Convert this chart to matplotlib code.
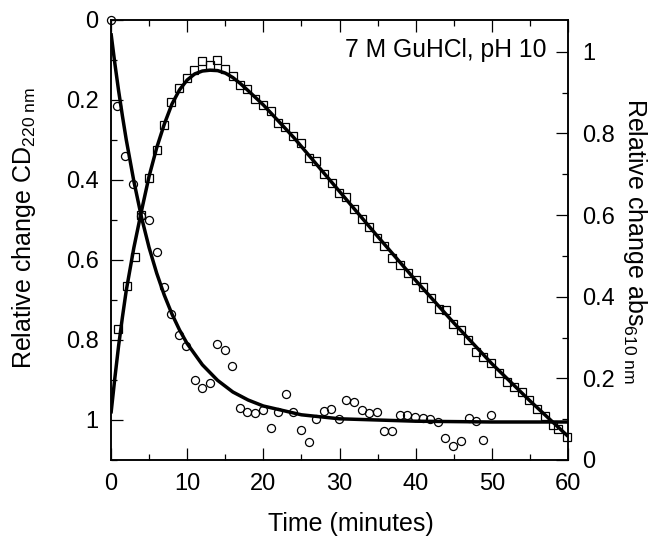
import matplotlib
matplotlib.use("Agg")
import matplotlib.pyplot as plt
from matplotlib.ticker import MultipleLocator, FixedLocator

plt.rcParams['font.family'] = ['Liberation Sans', 'DejaVu Sans']
plt.rcParams['mathtext.fontset'] = 'custom'
plt.rcParams['mathtext.rm'] = 'Liberation Sans'
plt.rcParams['mathtext.it'] = 'Liberation Sans:italic'
plt.rcParams['mathtext.bf'] = 'Liberation Sans:bold'

# ---- CD220 data (circles, left axis, inverted) ----
t_cd = [0, 0.85, 1.85, 2.85, 4.0, 5.0, 6.0, 6.95, 7.9, 8.9, 9.9, 11, 12, 13,
        13.9, 14.95, 15.9, 16.9, 17.9, 18.9, 19.95, 20.95, 21.9, 22.95, 23.9,
        24.9, 25.95, 26.9, 27.9, 28.9, 29.9, 30.9, 31.9, 32.9, 33.9, 34.9,
        35.9, 36.9, 37.9, 38.9, 39.95, 40.95, 41.9, 42.95, 43.9, 44.9, 45.9,
        46.95, 47.95, 48.9, 49.9]
cd = [0.0, 0.215, 0.34, 0.41, 0.49, 0.50, 0.58, 0.667, 0.736, 0.788, 0.814,
      0.90, 0.919, 0.908, 0.809, 0.825, 0.866, 0.97, 0.98, 0.983, 0.976, 1.02,
      0.979, 0.934, 0.98, 1.025, 1.055, 0.998, 0.977, 0.972, 0.997, 0.95,
      0.955, 0.976, 0.983, 0.98, 1.028, 1.028, 0.987, 0.988, 0.993, 0.994,
      0.998, 1.006, 1.045, 1.065, 1.053, 0.994, 1.002, 1.05, 0.988]

# fitted curve for CD
t_cd_fit = [0, 0.5, 1, 1.5, 2, 3, 4, 5, 6, 7, 8, 9, 10, 12, 14, 16, 18, 20,
            25, 30, 40, 50, 60]
cd_fit = [0.033, 0.108, 0.177, 0.240, 0.299, 0.403, 0.493, 0.569, 0.633,
          0.688, 0.735, 0.775, 0.809, 0.862, 0.901, 0.930, 0.950, 0.965,
          0.987, 0.997, 1.003, 1.005, 1.005]

# ---- abs610 data (squares, right axis) ----
t_abs = [0.96, 2.06, 3.15, 4.0, 5.03, 6.0, 7.0, 7.84, 8.93, 9.93, 10.9, 11.95,
         12.96, 13.96, 14.97, 15.98, 16.9, 17.9, 18.9, 19.9, 20.97, 21.9,
         22.9, 23.9, 24.9, 26.0, 26.9, 27.9, 28.97, 29.9, 30.85, 31.9, 32.9,
         33.9, 34.9, 35.9, 36.9, 38.0, 39.0, 40.0, 41.0, 42.0, 43.0, 44.0,
         44.95, 45.9, 46.9, 47.9, 48.9, 49.9, 50.9, 51.95, 52.95, 53.96, 54.9,
         55.97, 56.98, 58.0, 58.7, 59.9]
absv = [0.321, 0.427, 0.498, 0.60, 0.691, 0.759, 0.821, 0.876, 0.912, 0.936,
        0.955, 0.977, 0.967, 0.980, 0.959, 0.941, 0.919, 0.910, 0.884, 0.870,
        0.855, 0.825, 0.817, 0.795, 0.776, 0.740, 0.733, 0.700, 0.679, 0.655,
        0.644, 0.615, 0.591, 0.571, 0.545, 0.524, 0.496, 0.477, 0.458, 0.440,
        0.423, 0.396, 0.370, 0.368, 0.332, 0.319, 0.293, 0.264, 0.252, 0.237,
        0.213, 0.191, 0.179, 0.167, 0.148, 0.124, 0.108, 0.085, 0.076, 0.056]

t_abs_fit = [0, 0.5, 1, 1.5, 2, 3, 4, 5, 6, 7, 8, 9, 10, 11, 12, 13, 14, 15,
             16, 17, 18, 20, 22, 24, 26, 28, 30, 35, 40, 45, 50, 55, 60]
abs_fit = [0.114, 0.200, 0.280, 0.350, 0.415, 0.520, 0.610, 0.695, 0.765,
           0.823, 0.872, 0.907, 0.931, 0.946, 0.953, 0.955, 0.954, 0.948,
           0.937, 0.922, 0.905, 0.870, 0.830, 0.790, 0.746, 0.702, 0.658,
           0.548, 0.440, 0.336, 0.236, 0.145, 0.058]

x_ticks = [0, 10, 20, 30, 40, 50, 60]
left_ticks = [0, 0.2, 0.4, 0.6, 0.8, 1]
left_labels = ['0', '0.2', '0.4', '0.6', '0.8', '1']
right_ticks = [0, 0.2, 0.4, 0.6, 0.8, 1]
right_labels = ['0', '0.2', '0.4', '0.6', '0.8', '1']

W, H = 656, 538
fig = plt.figure(figsize=(W / 100, H / 100), dpi=100)
ax = fig.add_axes([111 / W, 1 - 460 / H, 457 / W, 440 / H])
ax2 = ax.twinx()

TICK_FS = 17
LABEL_FS = 18

# left: CD circles
ax.plot(t_cd, cd, linestyle='none', marker='o', ms=5.8, mfc='none',
        mec='black', mew=0.9, clip_on=False, zorder=3)
ax.plot(t_cd_fit, cd_fit, color='black', lw=2.5, zorder=4,
        solid_capstyle='butt')
ax.set_xlim(0, 60)
ax.set_ylim(1.1, 0)

# right: abs squares
ax2.plot(t_abs, absv, linestyle='none', marker='s', ms=6.0, mfc='none',
         mec='black', mew=0.9, clip_on=False, zorder=3)
ax2.plot(t_abs_fit, abs_fit, color='black', lw=2.5, zorder=4,
         solid_capstyle='butt')
ax2.set_ylim(0, 1.078)

for a in (ax, ax2):
    for s in a.spines.values():
        s.set_linewidth(1.1)

ax.xaxis.set_major_locator(FixedLocator(x_ticks))
ax.xaxis.set_minor_locator(MultipleLocator(5))
ax.set_xticklabels([str(v) for v in x_ticks])
ax.yaxis.set_major_locator(FixedLocator(left_ticks))
ax.yaxis.set_minor_locator(MultipleLocator(0.1))
ax.set_yticklabels(left_labels)
ax2.yaxis.set_major_locator(FixedLocator(right_ticks))
ax2.yaxis.set_minor_locator(MultipleLocator(0.1))
ax2.set_yticklabels(right_labels)

ax.tick_params(axis='both', which='major', direction='in', length=8.5,
               width=0.9, labelsize=TICK_FS, top=True, right=False, pad=9)
ax.tick_params(axis='both', which='minor', direction='in', length=4.5,
               width=0.9, top=True, right=False)
ax.tick_params(axis='x', which='major', pad=9)
ax2.tick_params(axis='y', which='major', direction='in', length=8.5,
                width=0.9, labelsize=TICK_FS, pad=10)
ax2.tick_params(axis='y', which='minor', direction='in', length=4.5,
                width=0.9)

ax.set_xlabel('Time (minutes)', fontsize=LABEL_FS)
ax.xaxis.set_label_coords((351 - 111) / 457, -0.118)
ax.set_ylabel(r'Relative change CD$_{\mathrm{220\ nm}}$', fontsize=LABEL_FS)
ax.yaxis.set_label_coords(-0.160, 0.527)
ax2.set_ylabel(r'Relative change abs$_{\mathrm{610\ nm}}$', fontsize=LABEL_FS,
               rotation=270, va='bottom')
ax2.yaxis.set_label_coords(1.116, 0.497)

ax.text(0.512, 0.916, '7 M GuHCl, pH 10', transform=ax.transAxes,
        fontsize=17.8, ha='left', va='baseline')

fig.savefig('out.png', dpi=100)
